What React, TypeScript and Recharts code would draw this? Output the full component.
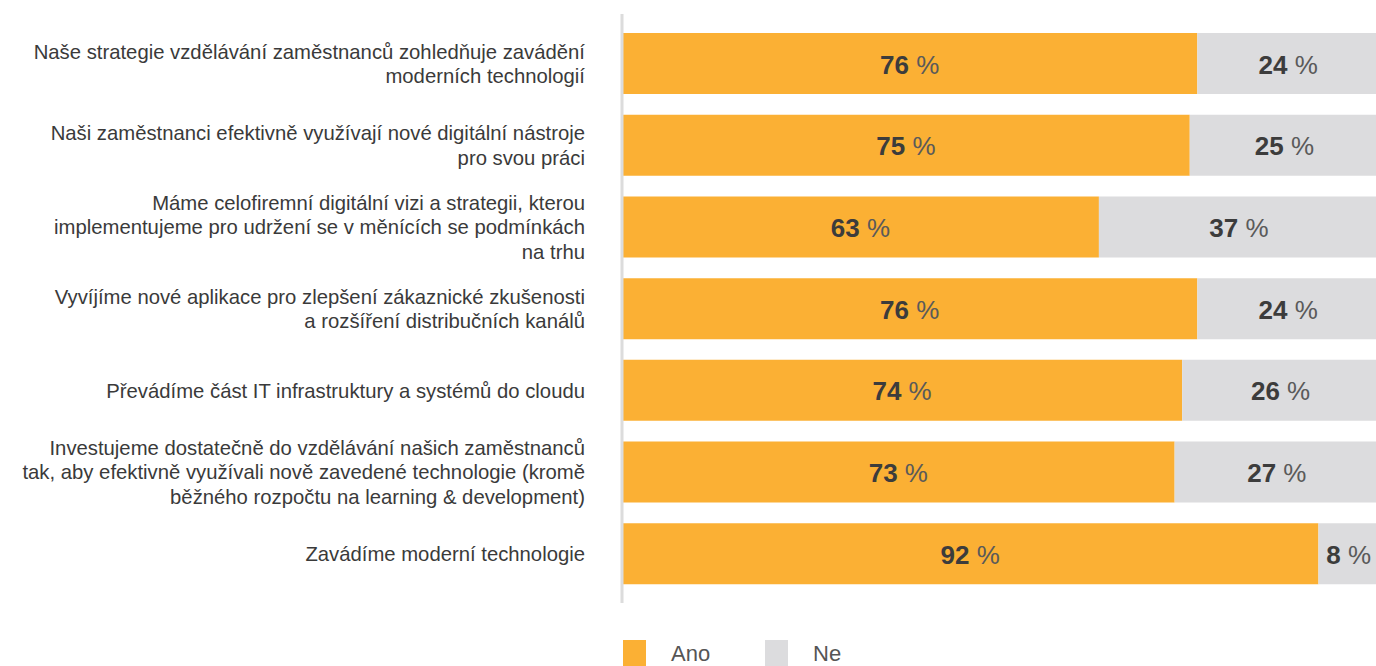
import React from 'react';
import { BarChart, Bar, XAxis, YAxis, Legend, LabelList } from 'recharts';

const categories = [
  'Naše strategie vzdělávání zaměstnanců zohledňuje zavádění\nmoderních technologií',
  'Naši zaměstnanci efektivně využívají nové digitální nástroje\npro svou práci',
  'Máme celofiremní digitální vizi a strategii, kterou\nimplementujeme pro udržení se v měnících se podmínkách\nna trhu',
  'Vyvíjíme nové aplikace pro zlepšení zákaznické zkušenosti\na rozšíření distribučních kanálů',
  'Převádíme část IT infrastruktury a systémů do cloudu',
  'Investujeme dostatečně do vzdělávání našich zaměstnanců\ntak, aby efektivně využívali nově zavedené technologie (kromě\nběžného rozpočtu na learning & development)',
  'Zavádíme moderní technologie',
];
const anoValues = [76, 75, 63, 76, 74, 73, 92];
const neValues = [24, 25, 37, 24, 26, 27, 8];
const seriesNames = ['Ano', 'Ne'];

const ORANGE = '#FBB034';
const GRAY = '#DCDCDE';
const FONT = '"Liberation Sans", Arial, Helvetica, sans-serif';

const data = categories.map((c, i) => ({ name: c, ano: anoValues[i], ne: neValues[i] }));

const CategoryTick = (props: any) => {
  const { x, y, payload } = props;
  const lines = String(payload.value).split('\n');
  const lh = 24.5;
  const start = -((lines.length - 1) / 2) * lh;
  return (
    <text
      x={x - 29}
      y={y}
      textAnchor="end"
      fontFamily={FONT}
      fontSize={20.3}
      fill="#3a3a3a"
      dominantBaseline="central"
    >
      {lines.map((l, i) => (
        <tspan key={i} x={x - 29} dy={i === 0 ? start : lh}>
          {l}
        </tspan>
      ))}
    </text>
  );
};

const ValueLabel = (props: any) => {
  const { x, y, width, height, value } = props;
  return (
    <text
      x={x + width / 2}
      y={y + height / 2 + 1}
      textAnchor="middle"
      dominantBaseline="central"
      fontFamily={FONT}
      fontSize={26}
    >
      <tspan fontWeight="bold" fill="#3c3c3c">{value}</tspan>
      <tspan fill="#5a5a5a" fontWeight="normal">{' %'}</tspan>
    </text>
  );
};

const LegendContent = () => {
  const colors = [ORANGE, GRAY];
  return (
    <div style={{ display: 'flex', fontFamily: FONT }}>
      {seriesNames.map((n, i) => (
        <div key={n} style={{ display: 'flex', alignItems: 'flex-start', width: 142 }}>
          <div style={{ width: 23, height: 26, background: colors[i] }} />
          <span style={{ marginLeft: 25, marginTop: 1, fontSize: 22, color: '#555', lineHeight: '26px' }}>{n}</span>
        </div>
      ))}
    </div>
  );
};

export default function App() {
  return (
    <div style={{ position: 'absolute', left: 0, top: 0, width: 1376, height: 666, background: '#fff', overflow: 'hidden' }}>
      <BarChart
        width={1379}
        height={666}
        data={data}
        layout="vertical"
        margin={{ top: 14, right: 0, bottom: 36, left: 0 }}
        barSize={61}
      >
        <XAxis type="number" domain={[0, 100]} hide />
        <Bar dataKey="ano" stackId="a" fill={ORANGE} isAnimationActive={false}>
          <LabelList dataKey="ano" content={ValueLabel} />
        </Bar>
        <Bar dataKey="ne" stackId="a" fill={GRAY} isAnimationActive={false}>
          <LabelList dataKey="ne" content={ValueLabel} />
        </Bar>
        <YAxis
          type="category"
          dataKey="name"
          width={622}
          padding={{ top: 9, bottom: 8 }}
          axisLine={{ stroke: '#DCDCDC', strokeWidth: 3 }}
          tickLine={false}
          tick={<CategoryTick />}
          interval={0}
        />
        <Legend
          content={<LegendContent />}
          wrapperStyle={{ position: 'absolute', left: 623, top: 640, width: 400 }}
        />
      </BarChart>
    </div>
  );
}
